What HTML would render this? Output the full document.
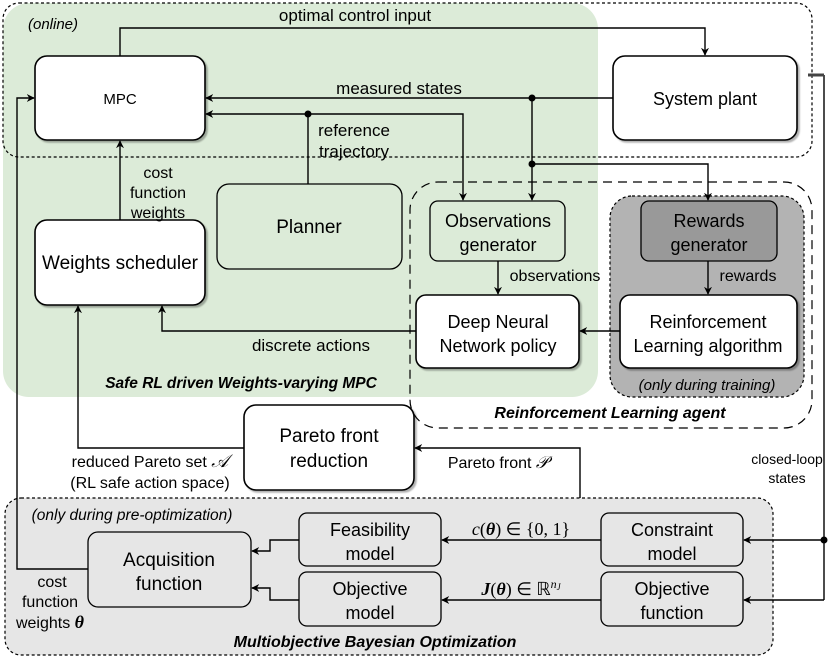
<!DOCTYPE html>
<html><head><meta charset="utf-8"><style>
html,body{margin:0;padding:0;background:#fff}
svg{display:block;font-family:"Liberation Sans",Arial,sans-serif}
</style></head><body>
<svg width="831" height="661" viewBox="0 0 831 661" xmlns="http://www.w3.org/2000/svg">
<defs>
<marker id="a" viewBox="0 0 10 10" refX="9" refY="5" markerWidth="8" markerHeight="8" orient="auto" markerUnits="userSpaceOnUse"><path d="M0,0 L10,5 L0,10 L3,5 z" fill="#000"/></marker>
<filter id="s" x="-5%" y="-5%" width="115%" height="120%"><feDropShadow dx="2" dy="2" stdDeviation="0.8" flood-color="#000" flood-opacity="0.3"/></filter>
</defs>
<rect x="3" y="3" width="595" height="394" rx="26" fill="#dcebd8"/>
<rect x="3" y="3" width="809" height="154" rx="16" fill="none" stroke="#000" stroke-width="1.2" stroke-dasharray="3,2.5"/>
<rect x="410" y="182" width="402" height="246" rx="28" fill="none" stroke="#000" stroke-width="1.2" stroke-dasharray="9,6"/>
<rect x="610" y="196" width="194" height="201" rx="22" fill="#b3b3b3" stroke="#000" stroke-width="1.2" stroke-dasharray="3,2.5"/>
<rect x="5" y="498" width="768" height="157" rx="16" fill="#e6e6e6" stroke="#000" stroke-width="1.2" stroke-dasharray="3,2.5"/>

<g stroke="#000" stroke-width="1.6" filter="url(#s)">
<rect x="35" y="56" width="170" height="84" rx="12" fill="#fff"/>
<rect x="613" y="56" width="184" height="84" rx="12" fill="#fff"/>
<rect x="35" y="220" width="170" height="85" rx="12" fill="#fff"/>
<rect x="416" y="295" width="163" height="73" rx="10" fill="#fff"/>
<rect x="620" y="295" width="177" height="73" rx="10" fill="#fff"/>
<rect x="244" y="405" width="170" height="85" rx="12" fill="#fff"/>
</g>
<g stroke="#000" stroke-width="1.3">
<rect x="217" y="184" width="185" height="85" rx="12" fill="#dcebd8"/>
<rect x="430" y="201" width="135" height="60" rx="8" fill="#dcebd8"/>
<rect x="641" y="201" width="136" height="60" rx="8" fill="#999"/>
<rect x="299" y="513" width="142" height="53" rx="8" fill="#e6e6e6"/>
<rect x="299" y="572" width="142" height="54" rx="8" fill="#e6e6e6"/>
<rect x="601" y="513" width="142" height="53" rx="8" fill="#e6e6e6"/>
<rect x="601" y="572" width="142" height="54" rx="8" fill="#e6e6e6"/>
<rect x="88" y="532" width="163" height="75" rx="10" fill="#e6e6e6"/>
</g>

<g fill="none" stroke="#000" stroke-width="1.4">
<path d="M120,56 V28 H705 V55" marker-end="url(#a)"/>
<path d="M613,98 H206" marker-end="url(#a)"/>
<path d="M532,98 V200" marker-end="url(#a)"/>
<path d="M532,164 H708 V200" marker-end="url(#a)"/>
<path d="M308,184 V114 H206" marker-end="url(#a)"/>
<path d="M308,114 H463 V200" marker-end="url(#a)"/>
<path d="M120,220 V141" marker-end="url(#a)"/>
<path d="M498,261 V294" marker-end="url(#a)"/>
<path d="M708,261 V294" marker-end="url(#a)"/>
<path d="M620,331 H580" marker-end="url(#a)"/>
<path d="M416,331 H162 V306" marker-end="url(#a)"/>
<path d="M244,448 H78 V306" marker-end="url(#a)"/>
<path d="M580,498 V448 H415" marker-end="url(#a)"/>
<path d="M88,569 H17 V98 H34" marker-end="url(#a)"/>
<path d="M824,75 V600"/>
<path d="M824,540 H744" marker-end="url(#a)"/>
<path d="M824,600 H744" marker-end="url(#a)"/>
<path d="M601,540 H442" marker-end="url(#a)"/>
<path d="M601,600 H442" marker-end="url(#a)"/>
<path d="M299,540 H270 V551 H252" marker-end="url(#a)"/>
<path d="M299,600 H270 V588 H252" marker-end="url(#a)"/>
</g>
<path d="M808,75 H824" stroke="#444" stroke-width="3"/>
<g fill="#000"><circle cx="532" cy="98" r="3.5"/><circle cx="532" cy="164" r="3.5"/><circle cx="308" cy="114" r="3.5"/><circle cx="824" cy="540" r="3.5"/></g>

<g font-size="17" fill="#000" text-anchor="middle">
<text x="355" y="21">optimal control input</text>
<text x="399" y="94">measured states</text>
<text x="120" y="104" font-size="15">MPC</text>
<text x="705" y="105" font-size="18">System plant</text>
<text x="354" y="136">reference</text>
<text x="354" y="157">trajectory</text>
<text x="158" y="178" font-size="16">cost</text>
<text x="158" y="198" font-size="16">function</text>
<text x="158" y="218" font-size="16">weights</text>
<text x="309" y="233" font-size="19">Planner</text>
<text x="120" y="269" font-size="19">Weights scheduler</text>
<text x="498" y="227" font-size="18">Observations</text>
<text x="498" y="251" font-size="18">generator</text>
<text x="709" y="227" font-size="18">Rewards</text>
<text x="709" y="251" font-size="18">generator</text>
<text x="555" y="281" font-size="16">observations</text>
<text x="748" y="281" font-size="16">rewards</text>
<text x="498" y="328" font-size="18">Deep Neural</text>
<text x="498" y="352" font-size="18">Network policy</text>
<text x="708" y="328" font-size="18">Reinforcement</text>
<text x="708" y="352" font-size="18">Learning algorithm</text>
<text x="311" y="351" font-size="17">discrete actions</text>
<text x="707" y="390" font-size="15" font-style="italic">(only during training)</text>
<text x="241" y="388" font-size="15.5" font-weight="bold" font-style="italic">Safe RL driven Weights-varying MPC</text>
<text x="610" y="418" font-size="16" font-weight="bold" font-style="italic">Reinforcement Learning agent</text>
<text x="329" y="442" font-size="19">Pareto front</text>
<text x="329" y="467" font-size="19">reduction</text>
<text x="150" y="467" font-size="16">reduced Pareto set <tspan font-family="Liberation Serif" font-style="italic" font-size="18">𝒜</tspan></text>
<text x="150" y="488" font-size="16">(RL safe action space)</text>
<text x="498" y="468" font-size="16">Pareto front <tspan font-family="Liberation Serif" font-style="italic" font-size="17">𝒫</tspan></text>
<text x="787" y="464" font-size="14">closed-loop</text>
<text x="787" y="483" font-size="14">states</text>
<text x="132" y="520" font-size="15.5" font-style="italic">(only during pre-optimization)</text>
<text x="370" y="536" font-size="18">Feasibility</text>
<text x="370" y="560" font-size="18">model</text>
<text x="370" y="595" font-size="18">Objective</text>
<text x="370" y="619" font-size="18">model</text>
<text x="672" y="536" font-size="18">Constraint</text>
<text x="672" y="560" font-size="18">model</text>
<text x="672" y="595" font-size="18">Objective</text>
<text x="672" y="619" font-size="18">function</text>
<text x="169" y="566" font-size="19">Acquisition</text>
<text x="169" y="590" font-size="19">function</text>
<text x="52" y="587" font-size="16">cost</text>
<text x="50" y="607" font-size="16">function</text>
<text x="50" y="628" font-size="16">weights <tspan font-family="Liberation Serif" font-weight="bold" font-style="italic" font-size="18">θ</tspan></text>
<text x="521" y="535" font-size="18" font-family="Liberation Serif"><tspan font-style="italic">c</tspan>(<tspan font-weight="bold" font-style="italic">θ</tspan>) ∈ {0, 1}</text>
<text x="521" y="595" font-size="18" font-family="Liberation Serif"><tspan font-weight="bold" font-style="italic">J</tspan>(<tspan font-weight="bold" font-style="italic">θ</tspan>) ∈ ℝ<tspan font-size="12" dy="-7" font-style="italic">n<tspan font-size="9" dy="2">J</tspan></tspan></text>
<text x="375" y="647" font-size="16" font-weight="bold" font-style="italic">Multiobjective Bayesian Optimization</text>
</g>
<text x="28" y="29" font-size="15" font-style="italic" fill="#000">(online)</text>
</svg>
</body></html>
